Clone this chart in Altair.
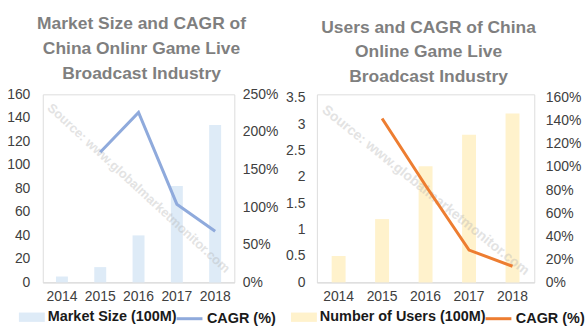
import altair as alt
import pandas as pd

# ---------------- data ----------------
years = ["2014", "2015", "2016", "2017", "2018"]
market_size = [5, 13, 40, 82, 134]
market_cagr = [None, 1.73, 2.26, 1.04, 0.68]
users = [0.5, 1.2, 2.2, 2.8, 3.2]
users_cagr = [None, 1.42, 0.84, 0.28, 0.14]

left_title = ["Market Size and CAGR of", "China Onlinr Game Live", "Broadcast Industry"]
right_title = ["Users and CAGR of China", "Online Game Live", "Broadcast Industry"]
left_bar_name = "Market Size (100M)"
right_bar_name = "Number of Users (100M)"
line_name = "CAGR (%)"
watermark_text = "Source: www.globalmarketmonitor.com"

left_ticks = [0, 20, 40, 60, 80, 100, 120, 140, 160]
left_pct_ticks = [0, 0.5, 1.0, 1.5, 2.0, 2.5]
right_ticks = [0, 0.5, 1.0, 1.5, 2.0, 2.5, 3.0, 3.5]
right_pct_ticks = [0, 0.2, 0.4, 0.6, 0.8, 1.0, 1.2, 1.4, 1.6]

FONT = "Liberation Sans"
RECT = "M-1,-0.36L1,-0.36L1,0.36L-1,0.36Z"


def panel(values, cagr, bar_name, title, bar_color, line_color,
          y_max, y_ticks, y_fmt, pct_max, pct_ticks, width, height,
          bar_size, wm_value, wm_angle, wm_size,
          fill_lx, stroke_lx, leg_y, left_pad, right_pad):
    df = pd.DataFrame({
        "year": years,
        "value": values,
        "cagr": cagr,
        "bar_series": bar_name,
        "line_series": line_name,
    })
    wm = pd.DataFrame({"year": ["2016"], "value": [wm_value], "label": [watermark_text]})

    x = alt.X(
        "year:N", title=None, sort=years,
        scale=alt.Scale(paddingInner=0.5, paddingOuter=0.25),
        axis=alt.Axis(labelAngle=0, ticks=False, domainColor="#d9d9d9",
                      domainWidth=1, labelPadding=7, labelFont=FONT,
                      labelFontSize=14, labelColor="#404040", grid=False),
    )
    y = alt.Y(
        "value:Q", title=None,
        scale=alt.Scale(domain=[0, y_max], nice=False, zero=True),
        axis=alt.Axis(values=y_ticks, format=y_fmt, domain=False, ticks=False,
                      grid=False, labelPadding=left_pad, labelFont=FONT,
                      labelFontSize=14, labelColor="#404040"),
    )

    legend_common = dict(orient="none", legendY=leg_y, title=None, padding=0,
                         labelFont=FONT, labelFontSize=14.5,
                         labelFontWeight="bold", labelColor="#1a1a1a",
                         labelOffset=3, labelLimit=400)

    bars = alt.Chart(df).mark_bar(size=bar_size).encode(
        x=x, y=y,
        fill=alt.Fill(
            "bar_series:N", scale=alt.Scale(range=[bar_color]),
            legend=alt.Legend(legendX=fill_lx, symbolType=RECT,
                              symbolSize=676, symbolStrokeWidth=0,
                              **legend_common),
        ),
    )
    wm_text = alt.Chart(wm).mark_text(
        angle=wm_angle, fontSize=wm_size, font=FONT, fontWeight="bold",
        color="#b0b0b0", opacity=0.35, align="center", baseline="middle",
    ).encode(x=x, y=y, text="label:N")

    line = alt.Chart(df).mark_line(strokeWidth=3).encode(
        x=x,
        y=alt.Y(
            "cagr:Q", title=None,
            scale=alt.Scale(domain=[0, pct_max], nice=False, zero=True),
            axis=alt.Axis(orient="right", values=pct_ticks, format=".0%",
                          domain=False, ticks=False, grid=False,
                          labelPadding=right_pad, labelFont=FONT,
                          labelFontSize=14, labelColor="#404040"),
        ),
        stroke=alt.Stroke(
            "line_series:N", scale=alt.Scale(range=[line_color]),
            legend=alt.Legend(legendX=stroke_lx, symbolType="stroke",
                              symbolSize=676, symbolStrokeWidth=3,
                              **legend_common),
        ),
    )

    return alt.layer(alt.layer(bars, wm_text), line).resolve_scale(
        y="independent"
    ).properties(
        width=width, height=height,
        title=alt.TitleParams(text=title, anchor="middle", font=FONT,
                              fontSize=17.5, fontWeight="bold", color="#7f7f7f",
                              lineHeight=25, offset=5, dx=3),
    )


left = panel(market_size, market_cagr, left_bar_name, left_title,
             "#deebf7", "#8faadc", 160, left_ticks, "d", 2.5, left_pct_ticks,
             192.5, 189, 12, 80, 42.7, 13, -24, 133, 211, 13, 8)

r_scale = 189 / 185.6
right = panel(users, users_cagr, right_bar_name, right_title,
              "#fff2cc", "#ed7d31", 3.5 * r_scale, right_ticks, ".1~f",
              1.6 * r_scale, right_pct_ticks,
              218.5, 189, 14, 1.74, 38.9, 14, -26, 168, 211, 12, 11)

chart = alt.hconcat(left, right, spacing=82.5, bounds="flush").resolve_scale(
    fill="independent", stroke="independent"
).resolve_legend(
    fill="independent", stroke="independent"
).properties(
    padding={"left": 6, "top": 14, "right": 0, "bottom": 0},
).configure_view(stroke=None).configure(background="white")

chart.save("out.html", embed_options={"renderer": "svg", "actions": False})
